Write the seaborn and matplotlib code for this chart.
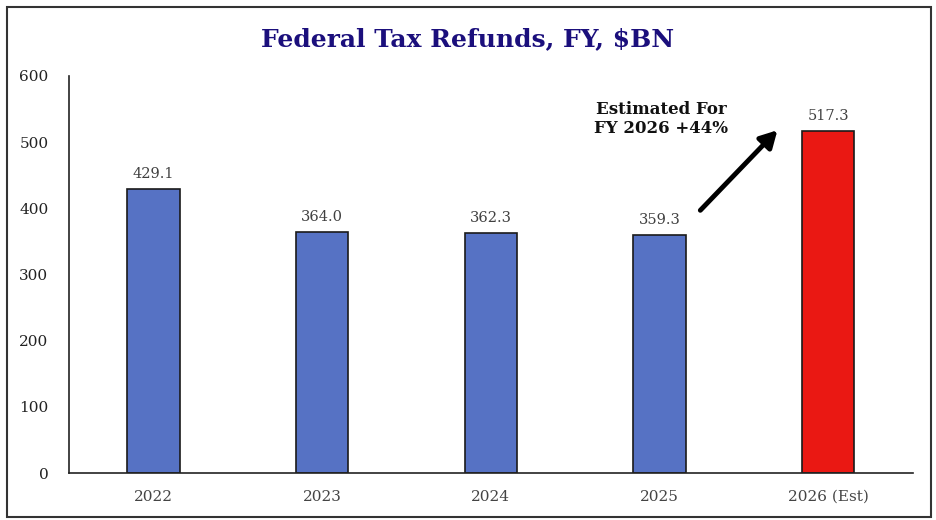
import matplotlib
matplotlib.use("Agg")
import matplotlib.pyplot as plt
import seaborn as sns
import pandas as pd
from matplotlib.patches import Rectangle

# Chart data
years = ["2022", "2023", "2024", "2025", "2026 (Est)"]
refunds = [429.1, 364.0, 362.3, 359.3, 517.3]
bar_colors = ["#5672C4", "#5672C4", "#5672C4", "#5672C4", "#EA1813"]
y_ticks = [0, 100, 200, 300, 400, 500, 600]

df = pd.DataFrame({"Year": years, "Refunds": refunds})

sns.set_style("white")
plt.rcParams["font.family"] = ["DejaVu Serif"]

fig = plt.figure(figsize=(9.36, 5.2), dpi=100)
ax = fig.add_axes([0.074, 0.09, 0.901, 0.764])

sns.barplot(data=df, x="Year", y="Refunds", hue="Year", palette=bar_colors,
            legend=False, width=0.31, saturation=1, edgecolor="#1a1a1a",
            linewidth=1.2, ax=ax)

for i, val in enumerate(refunds):
    ax.text(i, val + 12, f"{val:.1f}", ha="center", va="bottom",
            fontsize=10.5, color="#404040")

ax.set_ylim(0, 600)
ax.set_xlim(-0.5, 4.5)
ax.set_yticks(y_ticks)
ax.tick_params(axis="both", length=0, labelsize=11, colors="#222222")
ax.tick_params(axis="x", pad=12, labelcolor="#444444")
ax.tick_params(axis="y", pad=15)
ax.set_xlabel("")
ax.set_ylabel("")

for s in ["top", "right"]:
    ax.spines[s].set_visible(False)
ax.spines["left"].set_color("#222222")
ax.spines["bottom"].set_color("#222222")
ax.spines["left"].set_linewidth(1.2)
ax.spines["bottom"].set_linewidth(1.2)

# annotation with arrow
ax.annotate("", xy=(3.71, 521), xytext=(3.23, 394),
            arrowprops=dict(arrowstyle="-|>,head_length=1.0,head_width=0.55",
                            color="black", lw=3.5))
ax.text(3.01, 535, "Estimated For\nFY 2026 +44%", ha="center", va="center",
        fontsize=12, fontweight="bold", color="#111111", linespacing=1.2)

fig.text(0.5, 0.925, "Federal Tax Refunds, FY, $BN", ha="center", va="center",
         fontsize=18, fontweight="bold", color="#1B0F7C")

# figure border
fig.patches.append(Rectangle((0.007, 0.006), 0.988, 0.981, transform=fig.transFigure,
                             fill=False, edgecolor="#333333", linewidth=1.5))

fig.savefig("out.png", dpi=100)
